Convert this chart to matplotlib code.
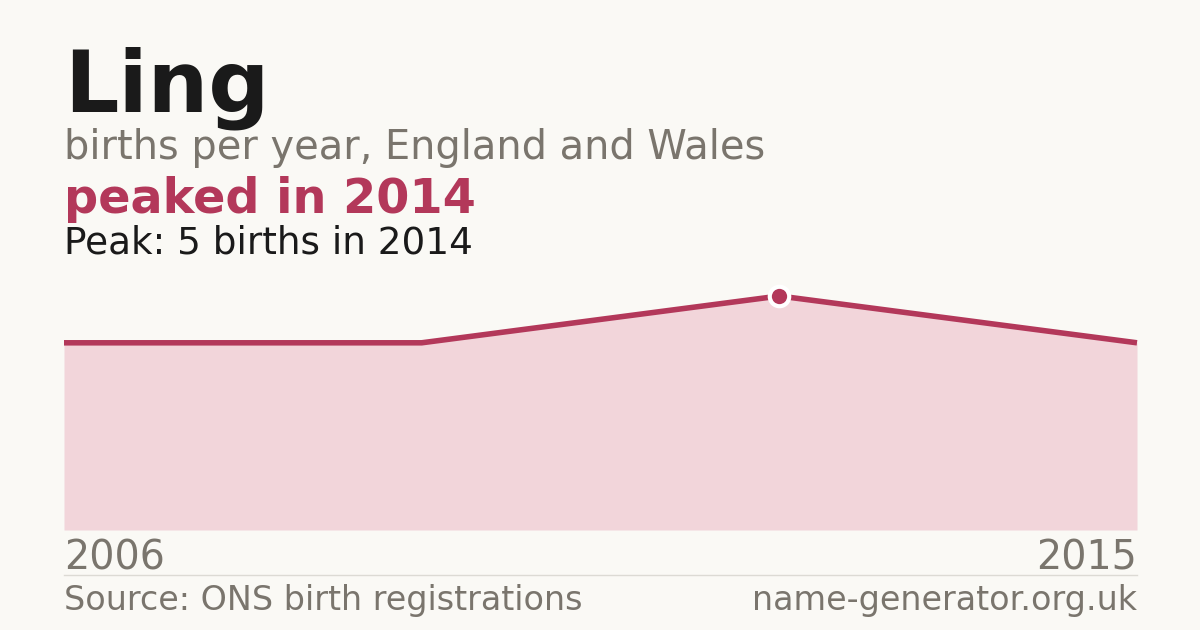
import matplotlib
matplotlib.use('Agg')
import matplotlib.pyplot as plt

# data points (plotted evenly spaced, as in the original graphic)
years = [2006, 2010, 2014, 2015]
births = [4, 4, 5, 4]
peak_year = 2014
peak_value = 5

bg = '#faf9f5'
red = '#b3385a'
fill = '#f2d5da'
gray = '#7a756d'
dark = '#1a1a1a'

W, H = 1200, 630
fig = plt.figure(figsize=(12, 6.3), dpi=100, facecolor=bg)

left, right = 64 / W, 1137 / W
bottom, top = 1 - 530 / H, 1 - 296 / H
ax = fig.add_axes([left, bottom, right - left, top - bottom])
ax.set_facecolor('none')

x = list(range(len(years)))
ax.fill_between(x, births, 0, color=fill, lw=0)
ax.plot(x, births, color=red, lw=4, solid_capstyle='butt', clip_on=False)
pk = years.index(peak_year)
ax.plot(x[pk], peak_value, 'o', ms=17, color='white', mec='none', clip_on=False)
ax.plot(x[pk], peak_value, 'o', ms=11, color=red, mec='none', clip_on=False)
ax.set_xlim(0, len(years) - 1)
ax.set_ylim(0, peak_value)
ax.axis('off')

def px(xp, yp):
    return xp / W, 1 - yp / H

fig.text(*px(64, 111), 'Ling', fontsize=61.5, fontweight='bold', color=dark, va='baseline')
fig.text(*px(64, 159), 'births per year, England and Wales', fontsize=28.7, color=gray, va='baseline')
fig.text(*px(64, 213), f'peaked in {peak_year}', fontsize=34.4, fontweight='bold', color=red, va='baseline')
fig.text(*px(64, 253), f'Peak: {peak_value} births in {peak_year}', fontsize=26.9, color=dark, va='baseline')

fig.text(*px(64, 569), str(years[0]), fontsize=28.5, color=gray, va='baseline')
fig.text(*px(1137, 569), str(years[-1]), fontsize=28.5, color=gray, va='baseline', ha='right')

fig.add_artist(plt.Line2D([left, right], [1 - 574.5 / H] * 2, color='#dcdad4', lw=1))

fig.text(*px(64, 610), 'Source: ONS birth registrations', fontsize=24, color=gray, va='baseline')
fig.text(*px(1137, 610), 'name-generator.org.uk', fontsize=24, color=gray, va='baseline', ha='right')

fig.savefig('out.png', dpi=100, facecolor=bg)
